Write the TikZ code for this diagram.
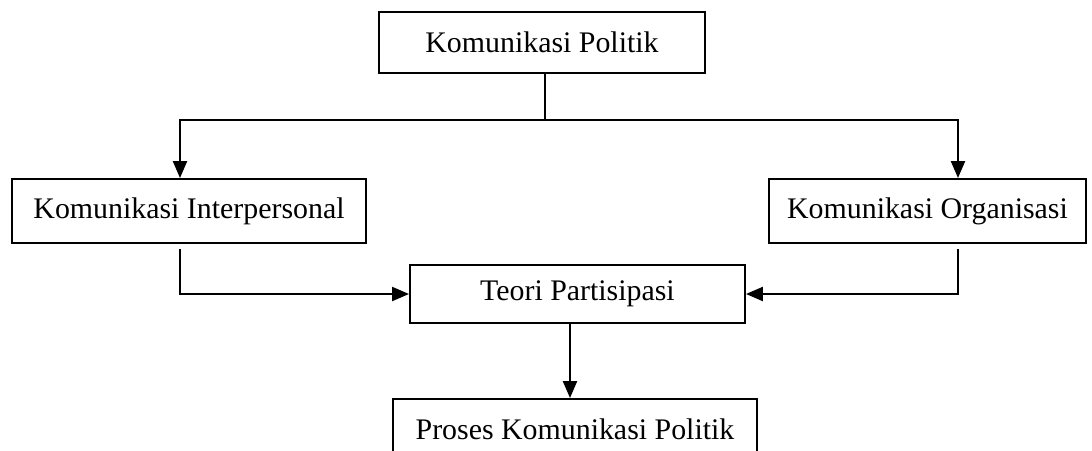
\documentclass[tikz,border=0pt]{standalone}
\usepackage{fontspec}
\setmainfont{Liberation Serif}
\usetikzlibrary{arrows.meta}
\tikzset{
  kotak/.style={draw, line width=1.1pt, inner sep=0pt, font=\fontsize{17}{20}\selectfont},
  panah/.style={line width=1.3pt, -{Triangle[length=0.34cm,width=0.28cm]}},
  garis/.style={line width=1.3pt}
}
\begin{document}
\begin{tikzpicture}
\useasboundingbox (0,0) rectangle (21.84,-9);
\clip (0,0) rectangle (21.84,-9);
\node[kotak, minimum width=6.52cm, minimum height=1.22cm] (politik) at (10.84,-0.85) {Komunikasi Politik};
\node[kotak, minimum width=7.08cm, minimum height=1.28cm] (inter) at (3.78,-4.22) {Komunikasi Interpersonal};
\node[kotak, minimum width=6.34cm, minimum height=1.28cm] (organ) at (18.55,-4.22) {Komunikasi Organisasi};
\node[kotak, minimum width=6.70cm, minimum height=1.16cm] (teori) at (11.55,-5.88) {Teori Partisipasi};
\node[kotak, minimum width=7.28cm, minimum height=1.20cm] (proses) at (11.50,-8.58) {Proses Komunikasi Politik};
\coordinate (cabang) at (10.9,-2.4);
\coordinate (kiri) at (3.6,-2.4);
\coordinate (kanan) at (19.16,-2.4);
\coordinate (bawah) at (11.4,0);
% cabang atas
\draw[garis] (cabang |- politik.south) -- (cabang);
\draw[panah] (cabang) -| (kiri |- inter.north);
\draw[panah] (cabang) -| (kanan |- organ.north);
% ke teori
\draw[panah, shorten <=3pt] (kiri |- inter.south) |- (teori.west);
\draw[panah, shorten <=3pt] (kanan |- organ.south) |- (teori.east);
\draw[panah] (bawah |- teori.south) -- (bawah |- proses.north);
\end{tikzpicture}
\end{document}
